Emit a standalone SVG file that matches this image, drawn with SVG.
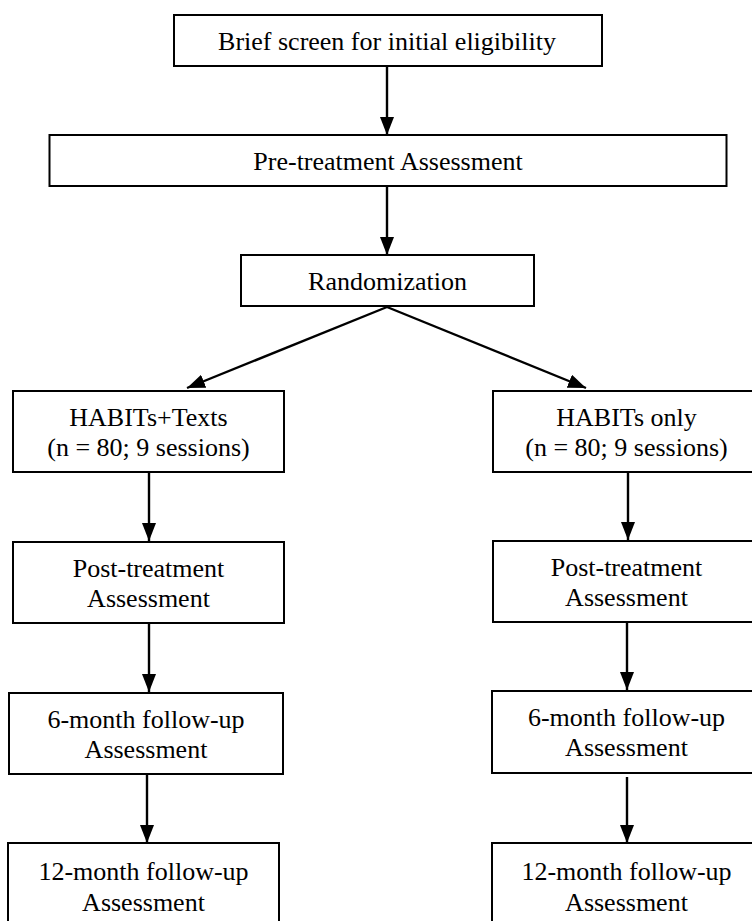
<svg xmlns="http://www.w3.org/2000/svg" width="752" height="921" viewBox="0 0 752 921">
<defs>
<marker id="ah" markerUnits="userSpaceOnUse" markerWidth="18" markerHeight="14" refX="18" refY="7" orient="auto">
<path d="M0,0 L18,7 L0,14 z" fill="#000"/>
</marker>
<style>
.box{fill:#fff;stroke:#000;stroke-width:2}
text{font-family:'Liberation Serif','Times New Roman',Times,serif;font-size:26px;fill:#000;text-anchor:middle}
.c{stroke:#000;stroke-width:2.4;fill:none;marker-end:url(#ah)}
</style>
</defs>
<rect width="752" height="921" fill="#fff"/>
<g id="connectors">
<line class="c" x1="387" y1="66" x2="387" y2="135"/>
<line class="c" x1="387" y1="186" x2="387" y2="255"/>
<line class="c" x1="387" y1="307" x2="187" y2="388"/>
<line class="c" x1="387" y1="307" x2="586" y2="388"/>
<line class="c" x1="149" y1="472" x2="149" y2="541"/>
<line class="c" x1="149" y1="623" x2="149" y2="692"/>
<line class="c" x1="147" y1="774" x2="147" y2="843"/>
<line class="c" x1="628" y1="472" x2="628" y2="540"/>
<line class="c" x1="627" y1="622" x2="627" y2="690"/>
<line class="c" x1="627" y1="777" x2="627" y2="843"/>
</g>
<g id="screen">
<rect class="box" x="174" y="15" width="428" height="51"/>
<text font-family="Liberation Serif" x="387" y="50">Brief screen for initial eligibility</text>
</g>
<g id="pretreatment">
<rect class="box" x="49.5" y="135" width="677" height="51"/>
<text font-family="Liberation Serif" x="388" y="170">Pre-treatment Assessment</text>
</g>
<g id="randomization">
<rect class="box" x="241" y="255" width="293" height="51"/>
<text font-family="Liberation Serif" x="387.5" y="290">Randomization</text>
</g>
<g id="habits-texts">
<rect class="box" x="13" y="391" width="271" height="81"/>
<text x="148.5" y="426">HABITs+Texts</text>
<text x="148.5" y="456">(n = 80; 9 sessions)</text>
</g>
<g id="habits-only">
<rect class="box" x="493" y="391" width="270" height="81"/>
<text x="626.5" y="426">HABITs only</text>
<text x="626.5" y="456">(n = 80; 9 sessions)</text>
</g>
<g id="post-left">
<rect class="box" x="13" y="542" width="271" height="81"/>
<text x="148.5" y="577">Post-treatment</text>
<text x="148.5" y="607">Assessment</text>
</g>
<g id="post-right">
<rect class="box" x="493" y="541" width="270" height="81"/>
<text x="626.5" y="576">Post-treatment</text>
<text x="626.5" y="606">Assessment</text>
</g>
<g id="six-left">
<rect class="box" x="9" y="693" width="274" height="81"/>
<text x="146" y="728">6-month follow-up</text>
<text x="146" y="758">Assessment</text>
</g>
<g id="six-right">
<rect class="box" x="492" y="691" width="271" height="82"/>
<text x="626.5" y="726">6-month follow-up</text>
<text x="626.5" y="756">Assessment</text>
</g>
<g id="twelve-left">
<rect class="box" x="8" y="843" width="271" height="90"/>
<text x="143.5" y="880">12-month follow-up</text>
<text x="143.5" y="911">Assessment</text>
</g>
<g id="twelve-right">
<rect class="box" x="492" y="843" width="271" height="90"/>
<text x="626.5" y="880">12-month follow-up</text>
<text x="626.5" y="911">Assessment</text>
</g>
</svg>
